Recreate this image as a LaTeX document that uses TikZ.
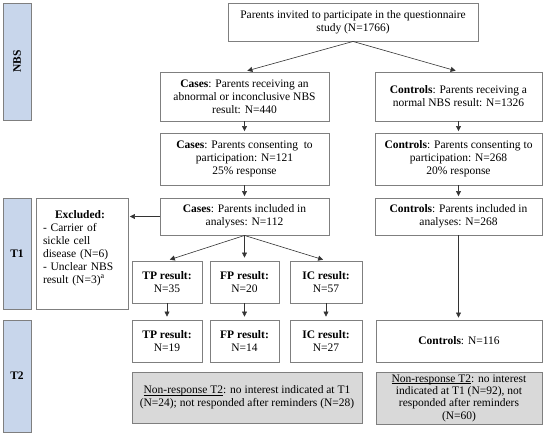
\documentclass[tikz,border=0pt]{standalone}
\usepackage{fontspec}
\setmainfont{Liberation Serif}
\usetikzlibrary{arrows.meta}
\definecolor{bordergray}{HTML}{7F7F7F}
\definecolor{sidebarblue}{HTML}{C8D6EB}
\definecolor{greyfill}{HTML}{D9D9D9}
\definecolor{linegray}{HTML}{333333}
\newcommand{\myul}[1]{\setbox0\hbox{#1}\rlap{\rule[-1.6pt]{\wd0}{0.5pt}}\box0}
\tikzset{
  txt/.style={font=\fontsize{11.5}{13}\selectfont},
  box/.style={draw=bordergray, line width=0.9pt, fill=white, align=center, inner sep=0pt, txt},
  greybox/.style={box, fill=greyfill},
  side/.style={draw=bordergray, line width=0.9pt, fill=sidebarblue, inner sep=0pt},
  sidelabel/.style={font=\fontsize{11.5}{13}\selectfont\bfseries, inner sep=0pt},
  arr/.style={draw=linegray, line width=0.6pt, -{Triangle[length=5pt,width=5pt]}},
}
\begin{document}
\begin{tikzpicture}[x=1pt,y=-1pt]
\useasboundingbox (0,0) rectangle (550,440);
% sidebars
\node[side, minimum width=28pt, minimum height=117pt] (sNBS) at (17,61.5) {};
\node[sidelabel, rotate=90] (lNBS) at (sNBS.center) {NBS};
\node[side, minimum width=28pt, minimum height=111pt] (sT1) at (17,253.5) {};
\node[sidelabel] (lT1) at (sT1.center) {T1};
\node[side, minimum width=28pt, minimum height=112pt] (sT2) at (17,376) {};
\node[sidelabel] (lT2) at (sT2.center) {T2};
% main boxes
\node[box, minimum width=250pt, minimum height=38pt] (top) at (353,22)
  {Parents invited to participate in the questionnaire\\study (N=1766)};
\node[box, minimum width=169pt, minimum height=49pt] (ca1) at (244.5,96.5)
  {\textbf{Cases}: Parents receiving an\\abnormal or inconclusive NBS\\result: N=440};
\node[box, minimum width=167pt, minimum height=49pt] (co1) at (458.5,96.5)
  {\textbf{Controls}: Parents receiving a\\normal NBS result: N=1326};
\node[box, minimum width=169pt, minimum height=52pt] (ca2) at (244.5,159)
  {\textbf{Cases}: Parents consenting\ \ to\\participation: N=121\\25\% response};
\node[box, minimum width=167pt, minimum height=52pt] (co2) at (458.5,159)
  {\textbf{Controls}: Parents consenting to\\participation: N=268\\20\% response};
\node[box, minimum width=169pt, minimum height=37pt] (ca3) at (244.5,216.5)
  {\textbf{Cases}: Parents included in\\analyses: N=112};
\node[box, minimum width=167pt, minimum height=37pt] (co3) at (458.5,216.5)
  {\textbf{Controls}: Parents included in\\analyses: N=268};
\node[box, minimum width=92pt, minimum height=111pt] (exc) at (82,253.5) {};
\node[txt, text width=82pt, align=left, inner sep=0pt] (exct) at (84,248)
  {\makebox[74pt][c]{\textbf{Excluded:}}\\- Carrier of\\sickle cell\\disease (N=6)\\- Unclear NBS\\result (N=3)\textsuperscript{a}};
\node[box, minimum width=70pt, minimum height=42pt] (tp1) at (167,282) {\textbf{TP result:}\\N=35};
\node[box, minimum width=69pt, minimum height=42pt] (fp1) at (244.5,282) {\textbf{FP result:}\\N=20};
\node[box, minimum width=72pt, minimum height=42pt] (ic1) at (326,282) {\textbf{IC result:}\\N=57};
\node[box, minimum width=70pt, minimum height=42pt] (tp2) at (167,341) {\textbf{TP result:}\\N=19};
\node[box, minimum width=69pt, minimum height=42pt] (fp2) at (244.5,341) {\textbf{FP result:}\\N=14};
\node[box, minimum width=72pt, minimum height=42pt] (ic2) at (326,341) {\textbf{IC result:}\\N=27};
\node[box, minimum width=166pt, minimum height=42pt] (coN) at (459,341) {\textbf{Controls}: N=116};
\node[greybox, minimum width=230pt, minimum height=51pt] (nrL) at (247,397.5)
  {\myul{Non-response T2}: no interest indicated at T1\\(N=24); not responded after reminders (N=28)};
\node[greybox, minimum width=166pt, minimum height=52pt, font=\fontsize{11.5}{12.3}\selectfont] (nrR) at (459,398)
  {\myul{Non-response T2}: no interest\\indicated at T1 (N=92), not\\responded after reminders\\(N=60)};
% connectors
\draw[arr, shorten >=3pt] (top.south) -- (ca1.north);
\draw[arr, shorten >=3pt] (top.south) -- (co1.north);
\draw[arr, shorten >=1.5pt] (ca1.south) -- (ca2.north);
\draw[arr, shorten >=1.5pt] (co1.south) -- (co2.north);
\draw[arr, shorten >=1.5pt] (ca2.south) -- (ca3.north);
\draw[arr, shorten >=1.5pt] (co2.south) -- (co3.north);
\draw[arr, shorten >=1.5pt] (ca3.west) -- (ca3.west -| exc.east);
\draw[arr, shorten >=3pt] (ca3.south) -- (tp1.north);
\draw[arr, shorten >=3pt] (ca3.south) -- (fp1.north);
\draw[arr, shorten >=3pt] (ca3.south) -- (ic1.north);
\draw[arr, shorten >=3pt] (tp1.south) -- (tp2.north);
\draw[arr, shorten >=3pt] (fp1.south) -- (fp2.north);
\draw[arr, shorten >=3pt] (ic1.south) -- (ic2.north);
\draw[arr, shorten >=2pt] (co3.south) -- (co3.south |- coN.north);
\end{tikzpicture}
\end{document}
